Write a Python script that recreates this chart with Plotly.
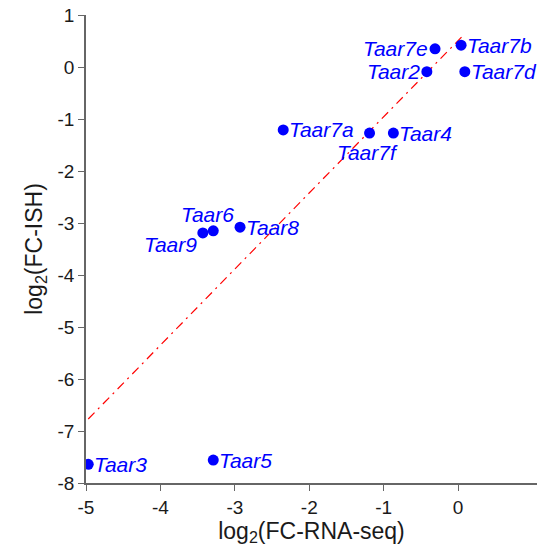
import plotly.graph_objects as go

genes = ["Taar7b", "Taar7e", "Taar2", "Taar7d", "Taar7a", "Taar7f", "Taar4",
         "Taar6", "Taar9", "Taar8", "Taar3", "Taar5"]
fc_rnaseq = [0.04, -0.31, -0.42, 0.09, -2.35, -1.19, -0.87, -3.29, -3.43, -2.93, -4.97, -3.29]
fc_ish = [0.42, 0.35, -0.09, -0.09, -1.21, -1.27, -1.27, -3.15, -3.19, -3.08, -7.64, -7.56]

fit_x = [-4.97, 0.05]
fit_y = [-6.77, 0.58]

x_ticks = [-5, -4, -3, -2, -1, 0]
y_ticks = [1, 0, -1, -2, -3, -4, -5, -6, -7, -8]

# label placement: (xanchor, yanchor, xshift, yshift)
label_pos = {
    "Taar7b": ("left", "middle", 4, 0),
    "Taar7e": ("right", "middle", -5, 0),
    "Taar2": ("right", "middle", -5, 0),
    "Taar7d": ("left", "middle", 4, 0),
    "Taar7a": ("left", "middle", 4, 0),
    "Taar7f": ("center", "top", -2, -6),
    "Taar4": ("left", "middle", 4, 0),
    "Taar6": ("center", "bottom", -6, 3),
    "Taar9": ("right", "top", -4, 2),
    "Taar8": ("left", "middle", 4, 0),
    "Taar3": ("left", "middle", 4, 0),
    "Taar5": ("left", "middle", 4, 0),
}

fig = go.Figure()
fig.add_trace(go.Scatter(
    x=fit_x, y=fit_y, mode="lines",
    line=dict(color="#ff0000", width=1.2, dash="9px,5px,2px,5px"),
    hoverinfo="skip", showlegend=False))
fig.add_trace(go.Scatter(
    x=fc_rnaseq, y=fc_ish, mode="markers",
    marker=dict(color="#0000ff", size=11),
    showlegend=False))

for g, xv, yv in zip(genes, fc_rnaseq, fc_ish):
    xa, ya, xs, ys = label_pos[g]
    fig.add_annotation(x=xv, y=yv, text="<i>" + g + "</i>", showarrow=False,
                       xanchor=xa, yanchor=ya, xshift=xs, yshift=ys,
                       font=dict(family="Liberation Sans", size=21, color="#0000ff"))

axis_common = dict(
    showgrid=False, zeroline=False, showline=True, linecolor="#666666", linewidth=1.5,
    ticks="outside", ticklen=6, tickwidth=1.2, tickcolor="#666666",
    tickfont=dict(family="Liberation Sans", size=19, color="#1a1a1a"),
    title_font=dict(family="Liberation Sans", size=23, color="#1a1a1a"),
)

fig.update_xaxes(range=[-5, 1.06], tickvals=x_ticks, ticktext=[str(v) for v in x_ticks],
                 title_text="log<sub>2</sub>(FC-RNA-seq)", title_standoff=2, **axis_common)
fig.update_yaxes(range=[-8, 1], tickvals=y_ticks, ticktext=[str(v) for v in y_ticks],
                 title_text="log<sub>2</sub>(FC-ISH)", title_standoff=8, **axis_common)

fig.update_layout(
    width=537, height=553,
    margin=dict(l=86, r=0, t=15, b=70),
    plot_bgcolor="white", paper_bgcolor="white",
)

fig.write_html("out.html")
